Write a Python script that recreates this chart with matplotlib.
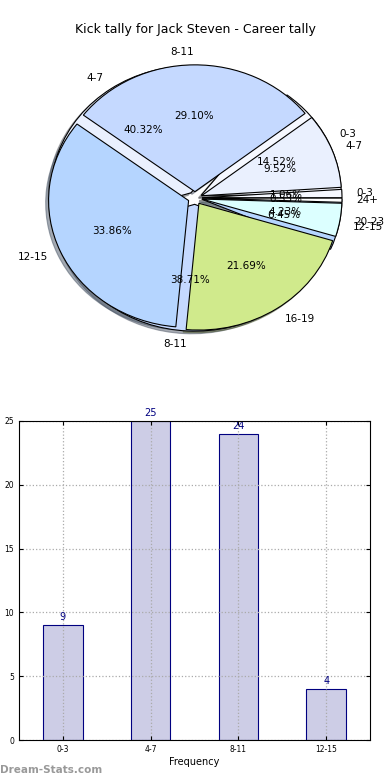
import matplotlib
matplotlib.use("Agg")
import matplotlib.pyplot as plt

# Data
career_labels = ["0-3", "4-7", "8-11", "12-15", "16-19", "20-23", "24+"]
career_counts = [2, 18, 55, 64, 41, 8, 1]
freq_labels = ["0-3", "4-7", "8-11", "12-15"]
freq_counts = [9, 25, 24, 4]

title = "Kick tally for Jack Steven - Career tally"
colors = ["#f6f8ff", "#eaf0fe", "#c5d9ff", "#b5d5ff", "#d0ea8c", "#dcffff", "#ffffff"]

fig = plt.figure(figsize=(3.9, 7.8), dpi=100)

# Pie axes
pw, ph = 350, 317
cx, cy = 195, 198
ax1 = fig.add_axes([(cx - pw / 2) / 390, 1 - (cy + ph / 2) / 780, pw / 390, ph / 780])
ax1.axis("off")

for lab, cnt in [(freq_labels, freq_counts), (career_labels, career_counts)]:
    ax1.pie(
        cnt, labels=lab, colors=colors[:len(cnt)], explode=[0.05] * len(cnt),
        autopct="%1.2f%%", shadow={"ox": -0.015, "oy": -0.015, "shade": 0.6},
        startangle=0, labeldistance=1.1, pctdistance=0.6,
        wedgeprops=dict(edgecolor="black", linewidth=0.8),
        textprops=dict(fontsize=7.5),
        frame=False)
    ax1.set_aspect("auto")
ax1.set_xlim(-1.25, 1.25)
ax1.set_ylim(-1.25, 1.25)

fig.text(0.5, 1 - 30 / 780, title, ha="center", va="center", fontsize=9)

# Bar axes
ax2 = fig.add_axes([19 / 390, 1 - 740 / 780, 351 / 390, 319 / 780])
x = list(range(len(freq_labels)))
bars = ax2.bar(x, freq_counts, width=0.45, color="#cdcde6", edgecolor="#000080", linewidth=0.8)
for xi, v in zip(x, freq_counts):
    ax2.text(xi, v + 0.25, str(v), ha="center", va="bottom", color="#000080", fontsize=7, clip_on=False)
ax2.set_xlim(-0.5, 3.5)
ax2.set_ylim(0, 25)
ax2.set_yticks([0, 5, 10, 15, 20, 25])
ax2.set_xticks(x)
ax2.set_xticklabels(freq_labels)
ax2.tick_params(labelsize=5.5, direction="in", top=True, right=True, length=3)
ax2.grid(True, linestyle=":", color="#aaaaaa", linewidth=0.9)
ax2.set_axisbelow(False)
for b in bars:
    b.set_zorder(1)
for sp in ax2.spines.values():
    sp.set_zorder(5)
ax2.set_xlabel("Frequency", fontsize=7, labelpad=2)
ax2.set_ylabel("Kick Tally", fontsize=7, labelpad=3)
ax2.yaxis.set_label_coords(-0.055, 0.5)

fig.text(0.0, 1 - 770 / 780, "Dream-Stats.com", fontsize=7.5, color="#999999",
         fontweight="bold", ha="left", va="center")

fig.savefig("out.png", dpi=100)
